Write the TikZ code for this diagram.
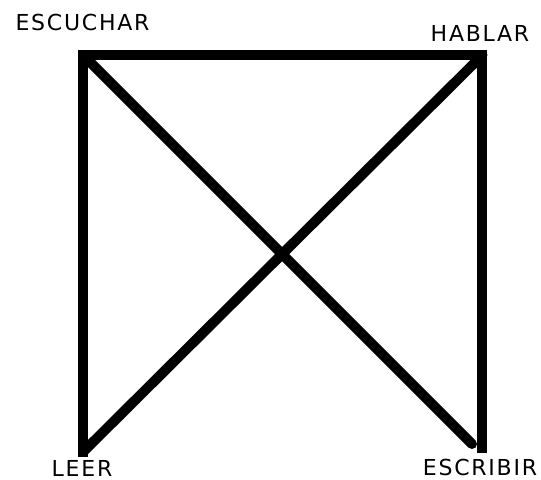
\documentclass[tikz,border=0pt]{standalone}
\usepackage{fontspec}
\newfontfamily\lblfont{DejaVu Sans}[LetterSpace=8]
\usepackage{tikz}
\usepackage{tkz-euclide}

\tikzset{
  lbl/.style={font=\lblfont\fontsize{22}{26}\selectfont, inner sep=0pt, text=black},
  bar/.style={black, line width=10pt}
}

\begin{document}
\begin{tikzpicture}[scale=0.3515]
                \useasboundingbox (0,0) rectangle (54.1,48);
                \tkzDefPoint(8.3,42.5){E}
                \tkzDefPoint(48.25,42.5){H}
                \tkzDefPoint(8.3,2.8){L}
                \tkzDefPoint(48.25,3.2){S}
                \tkzDefPoint(47.2,3.6){R}
                \tkzDrawSegments[bar, line cap=rect](E,H H,S E,L)
                \tkzDrawSegments[bar](E,R L,H)
                \tkzDrawPoints[fill=black, size=4](E)
                \node[lbl] (escuchar) at (8.25,45.7) {ESCUCHAR};
                \node[lbl] (hablar) at (48,44.65) {HABLAR};
                \node[lbl] (leer) at (8.2,1.2) {LEER};
                \node[lbl] (escribir) at (48,1.3) {ESCRIBIR};
            \end{tikzpicture}
\end{document}
